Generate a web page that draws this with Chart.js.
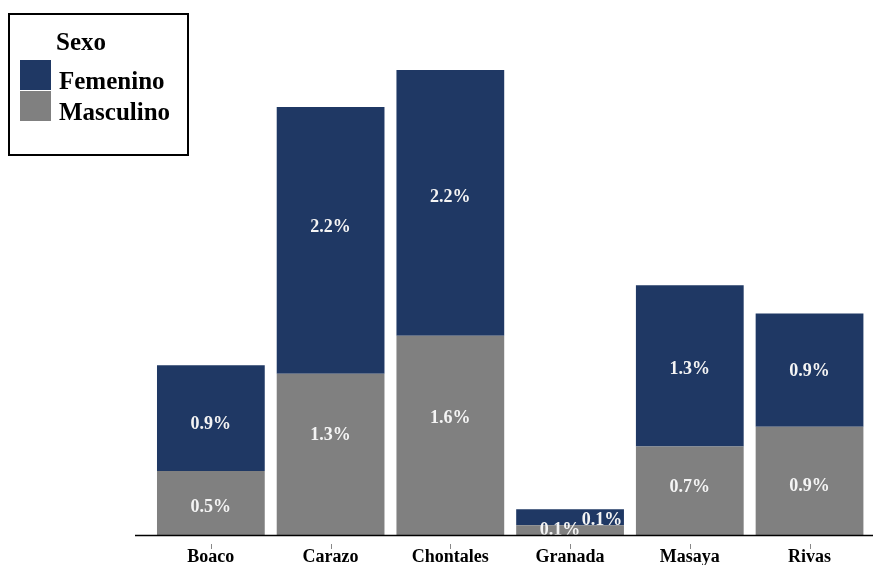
<!DOCTYPE html>
<html>
<head>
<meta charset="utf-8">
<script src="https://cdn.jsdelivr.net/npm/chart.js@4/dist/chart.umd.min.js"></script>
<style>
html,body{margin:0;padding:0;background:#fff;}
#wrap{width:873px;height:565px;position:relative;}
</style>
</head>
<body>
<div id="wrap"><canvas id="c" width="873" height="565"></canvas></div>
<script>
const categories = ['Boaco', 'Carazo', 'Chontales', 'Granada', 'Masaya', 'Rivas'];
const masculino = [0.52, 1.31, 1.62, 0.08, 0.72, 0.88];
const femenino  = [0.86, 2.17, 2.16, 0.13, 1.31, 0.92];
const legendTitle = 'Sexo';

const NAVY = '#1f3864';
const GRAY = '#808080';
const SERIF = '"Liberation Serif", "Times New Roman", serif';

// label nudges [dx, dy] per category and dataset index (style only)
const labelNudge = {
  'Boaco':     { 0: [0, 4],   1: [0, 6] },
  'Carazo':    { 0: [0, -19], 1: [0, -13] },
  'Chontales': { 0: [0, -17], 1: [0, -6] },
  'Granada':   { 0: [-10, 0], 1: [32, 3] },
  'Masaya':    { 0: [0, -3],  1: [0, 3] },
  'Rivas':     { 0: [0, 5],   1: [0, 1] }
};

const overlay = {
  id: 'overlay',
  afterDatasetsDraw(chart) {
    const ctx = chart.ctx;
    const area = chart.chartArea;
    ctx.save();
    ctx.beginPath();
    ctx.rect(area.left, area.top, area.right - area.left, area.bottom - area.top);
    ctx.clip();
    ctx.font = 'bold 18px ' + SERIF;
    ctx.fillStyle = '#f4f4f4';
    ctx.textAlign = 'center';
    ctx.textBaseline = 'middle';
    chart.data.datasets.forEach((ds, di) => {
      const meta = chart.getDatasetMeta(di);
      meta.data.forEach((el, i) => {
        const v = ds.data[i];
        let x = el.x, y = (el.y + el.base) / 2;
        const n = labelNudge[categories[i]];
        if (n && n[di]) { x += n[di][0]; y += n[di][1]; }
        ctx.fillText(v.toFixed(1) + '%', x, y);
      });
    });
    ctx.restore();
  },
  afterDraw(chart) {
    const ctx = chart.ctx;
    const area = chart.chartArea;
    const xs = chart.scales.x;
    ctx.save();
    // baseline axis
    ctx.strokeStyle = '#000';
    ctx.lineWidth = 1.5;
    ctx.beginPath();
    ctx.moveTo(135, area.bottom + 0.5);
    ctx.lineTo(873, area.bottom + 0.5);
    ctx.stroke();
    // small ticks
    ctx.strokeStyle = '#888';
    ctx.lineWidth = 1;
    categories.forEach((c, i) => {
      const x = Math.round(xs.getPixelForValue(i)) + 0.5;
      ctx.beginPath();
      ctx.moveTo(x, area.bottom + 9);
      ctx.lineTo(x, area.bottom + 14);
      ctx.stroke();
    });
    // legend box
    ctx.strokeStyle = '#000';
    ctx.lineWidth = 2;
    ctx.fillStyle = '#fff';
    ctx.fillRect(8, 13, 181, 143);
    ctx.strokeRect(9, 14, 179, 141);
    ctx.fillStyle = '#000';
    ctx.textAlign = 'left';
    ctx.textBaseline = 'middle';
    ctx.font = 'bold 25px ' + SERIF;
    ctx.fillText(legendTitle, 56, 44);
    const order = [1, 0];
    order.forEach((di, k) => {
      const ds = chart.data.datasets[di];
      const y0 = 60 + k * 31;
      ctx.fillStyle = ds.backgroundColor;
      ctx.fillRect(20, y0, 31, 30);
      ctx.fillStyle = '#000';
      ctx.font = 'bold 25px ' + SERIF;
      ctx.fillText(ds.label, 59, y0 + 23);
    });
    ctx.restore();
  }
};

new Chart(document.getElementById('c'), {
  type: 'bar',
  data: {
    labels: categories,
    datasets: [
      { label: 'Masculino', data: masculino, backgroundColor: GRAY, borderWidth: 0 },
      { label: 'Femenino', data: femenino, backgroundColor: NAVY, borderWidth: 0 }
    ]
  },
  options: {
    responsive: false,
    animation: false,
    layout: { padding: { left: 151, right: 3.6, top: 43, bottom: 0 } },
    datasets: { bar: { barPercentage: 0.9, categoryPercentage: 1.0 } },
    plugins: { legend: { display: false }, tooltip: { enabled: false } },
    scales: {
      x: {
        stacked: true,
        grid: { display: false, drawTicks: false },
        border: { display: false },
        ticks: { color: '#000', font: { family: SERIF, size: 18, weight: 'bold' }, padding: 12, maxRotation: 0 },
        afterFit(s) { s.height = 30; }
      },
      y: {
        stacked: true,
        display: false,
        min: 0,
        max: 4
      }
    }
  },
  plugins: [overlay]
});
</script>
</body>
</html>
